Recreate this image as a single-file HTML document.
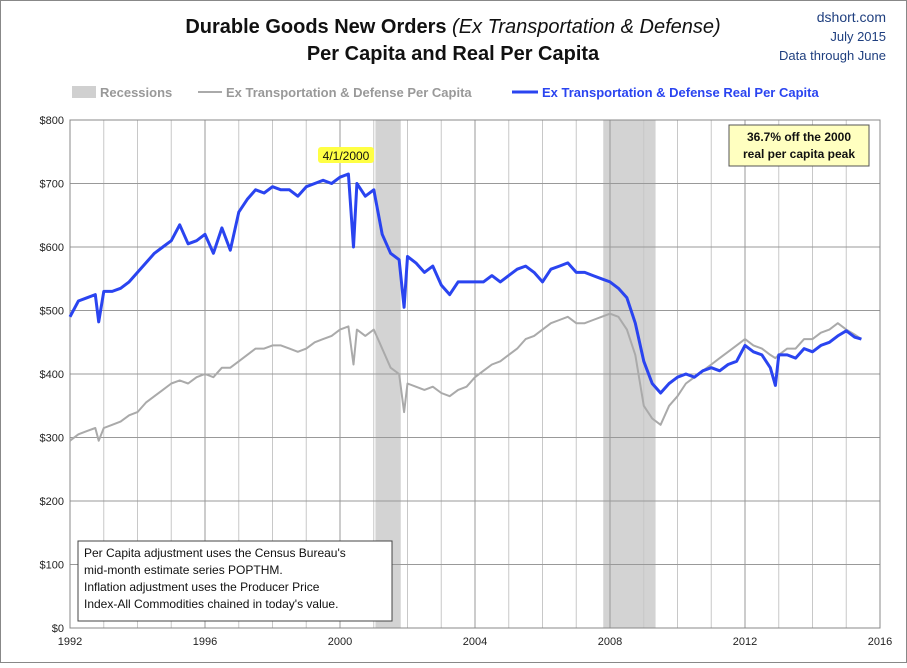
<!DOCTYPE html>
<html><head><meta charset="utf-8"><style>
body{margin:0;background:#fff;}
svg text{font-family:"Liberation Sans",sans-serif;}
</style></head><body>
<svg id="chart" width="907" height="663" xmlns="http://www.w3.org/2000/svg">
<rect x="0.5" y="0.5" width="906" height="662" fill="#fff" stroke="#888"/>
<text x="453" y="33" text-anchor="middle" font-size="20" font-weight="bold" fill="#111">Durable Goods New Orders <tspan font-weight="normal" font-style="italic">(Ex Transportation &amp; Defense)</tspan></text>
<text x="453" y="60" text-anchor="middle" font-size="20" font-weight="bold" fill="#111">Per Capita and Real Per Capita</text>
<g font-size="13" fill="#1f3f7f" text-anchor="end">
<text x="886" y="22" font-size="14">dshort.com</text><text x="886" y="41">July 2015</text><text x="886" y="60">Data through June</text></g>
<g font-size="13" font-weight="bold">
<rect x="72" y="86" width="24" height="12" fill="#d0d0d0"/>
<text x="100" y="97" fill="#999">Recessions</text>
<line x1="198" y1="92" x2="222" y2="92" stroke="#aaa" stroke-width="2"/>
<text x="226" y="97" fill="#999">Ex Transportation &amp; Defense Per Capita</text>
<line x1="512" y1="92" x2="538" y2="92" stroke="#2a44f0" stroke-width="3"/>
<text x="542" y="97" fill="#2a44f0">Ex Transportation &amp; Defense Real Per Capita</text>
</g>
<g id="plot"></g>
</svg>
<script>
const dates=[1992,1992.25,1992.5,1992.75,1992.85,1993,1993.25,1993.5,1993.75,1994,1994.25,1994.5,1994.75,1995,1995.25,1995.5,1995.75,1996,1996.25,1996.5,1996.75,1997,1997.25,1997.5,1997.75,1998,1998.25,1998.5,1998.75,1999,1999.25,1999.5,1999.75,2000,2000.25,2000.4,2000.5,2000.75,2001,2001.25,2001.5,2001.75,2001.9,2002,2002.25,2002.5,2002.75,2003,2003.25,2003.5,2003.75,2004,2004.25,2004.5,2004.75,2005,2005.25,2005.5,2005.75,2006,2006.25,2006.5,2006.75,2007,2007.25,2007.5,2007.75,2008,2008.25,2008.5,2008.75,2009,2009.25,2009.5,2009.75,2010,2010.25,2010.5,2010.75,2011,2011.25,2011.5,2011.75,2012,2012.25,2012.5,2012.75,2012.9,2013,2013.25,2013.5,2013.75,2014,2014.25,2014.5,2014.75,2015,2015.25,2015.45];
const realValues=[490,515,520,525,482,530,530,535,545,560,575,590,600,610,635,605,610,620,590,630,595,655,675,690,685,695,690,690,680,695,700,705,700,710,715,600,700,680,690,620,590,580,505,585,575,560,570,540,525,545,545,545,545,555,545,555,565,570,560,545,565,570,575,560,560,555,550,545,535,520,480,420,385,370,385,395,400,395,405,410,405,415,420,445,435,430,410,382,430,430,425,440,435,445,450,460,468,458,455];
const nominalValues=[295,305,310,315,295,315,320,325,335,340,355,365,375,385,390,385,395,400,395,410,410,420,430,440,440,445,445,440,435,440,450,455,460,470,475,415,470,460,470,440,410,400,340,385,380,375,380,370,365,375,380,395,405,415,420,430,440,455,460,470,480,485,490,480,480,485,490,495,490,470,430,350,330,320,350,365,385,395,405,415,425,435,445,455,445,440,430,425,430,440,440,455,455,465,470,480,470,462,455];
const yTicks=[0,100,200,300,400,500,600,700,800];
const xTicks=[1992,1996,2000,2004,2008,2012,2016];
const recessions=[[2001.05,2001.8],[2007.8,2009.35]];
const X0=70,X1=880,Y0=628,Y1=120;
const xs=d=>X0+(d-1992)/(2016-1992)*(X1-X0);
const ys=v=>Y0-v/800*(Y0-Y1);
const NS="http://www.w3.org/2000/svg",g=document.getElementById('plot');
function mk(t,a,p){const e=document.createElementNS(NS,t);for(const k in a)e.setAttribute(k,a[k]);(p||g).appendChild(e);return e;}
recessions.forEach(r=>{const e=mk('rect',{x:xs(r[0]),y:Y1,width:xs(r[1])-xs(r[0]),height:Y0-Y1,fill:'#d3d3d3'});

});
for(let yr=1993;yr<2016;yr++){const e=mk('line',{x1:xs(yr),x2:xs(yr),y1:Y1,y2:Y0,stroke:(yr%4==0)?'#999':'#c8c8c8','stroke-width':1});

}
yTicks.forEach(v=>{const e=mk('line',{x1:X0,x2:X1,y1:ys(v),y2:ys(v),stroke:'#999'});


const t=mk('text',{x:X0-6,y:ys(v)+4,'text-anchor':'end','font-size':11,fill:'#222'});t.textContent='$'+v;

});
xTicks.forEach(d=>{const t=mk('text',{x:xs(d),y:Y0+17,'text-anchor':'middle','font-size':11,fill:'#222'});t.textContent=d;

});
const b=mk('rect',{x:X0,y:Y1,width:X1-X0,height:Y0-Y1,fill:'none',stroke:'#888'});


function path(vals){return vals.map((v,i)=>(i?'L':'M')+xs(dates[i]).toFixed(1)+','+ys(v).toFixed(1)).join('');}
const n=mk('path',{d:path(nominalValues),fill:'none',stroke:'#aaa','stroke-width':2,'stroke-linejoin':'round'});


const r=mk('path',{d:path(realValues),fill:'none',stroke:'#2a44f0','stroke-width':3,'stroke-linejoin':'round'});


</script>
<svg width="907" height="663" style="position:absolute;left:0;top:0;pointer-events:none" xmlns="http://www.w3.org/2000/svg">
<rect x="318" y="147" width="56" height="16" rx="3" fill="#ffff44"/>
<text x="346" y="160" text-anchor="middle" font-size="12" fill="#111">4/1/2000</text>
<rect x="729" y="125" width="140" height="41" fill="#ffffc0" stroke="#555"/>
<text x="799" y="141" text-anchor="middle" font-size="12" font-weight="bold" fill="#111">36.7% off the 2000</text>
<text x="799" y="158" text-anchor="middle" font-size="12" font-weight="bold" fill="#111">real per capita peak</text>
<rect x="78" y="541" width="314" height="80" fill="#fff" stroke="#444"/>
<g font-size="12" fill="#111"><text x="84" y="557">Per Capita adjustment uses the Census Bureau's</text>
<text x="84" y="574">mid-month estimate series POPTHM.</text>
<text x="84" y="591">Inflation adjustment uses the Producer Price</text>
<text x="84" y="608">Index-All Commodities chained in today's value.</text></g>
</svg>
</body></html>
